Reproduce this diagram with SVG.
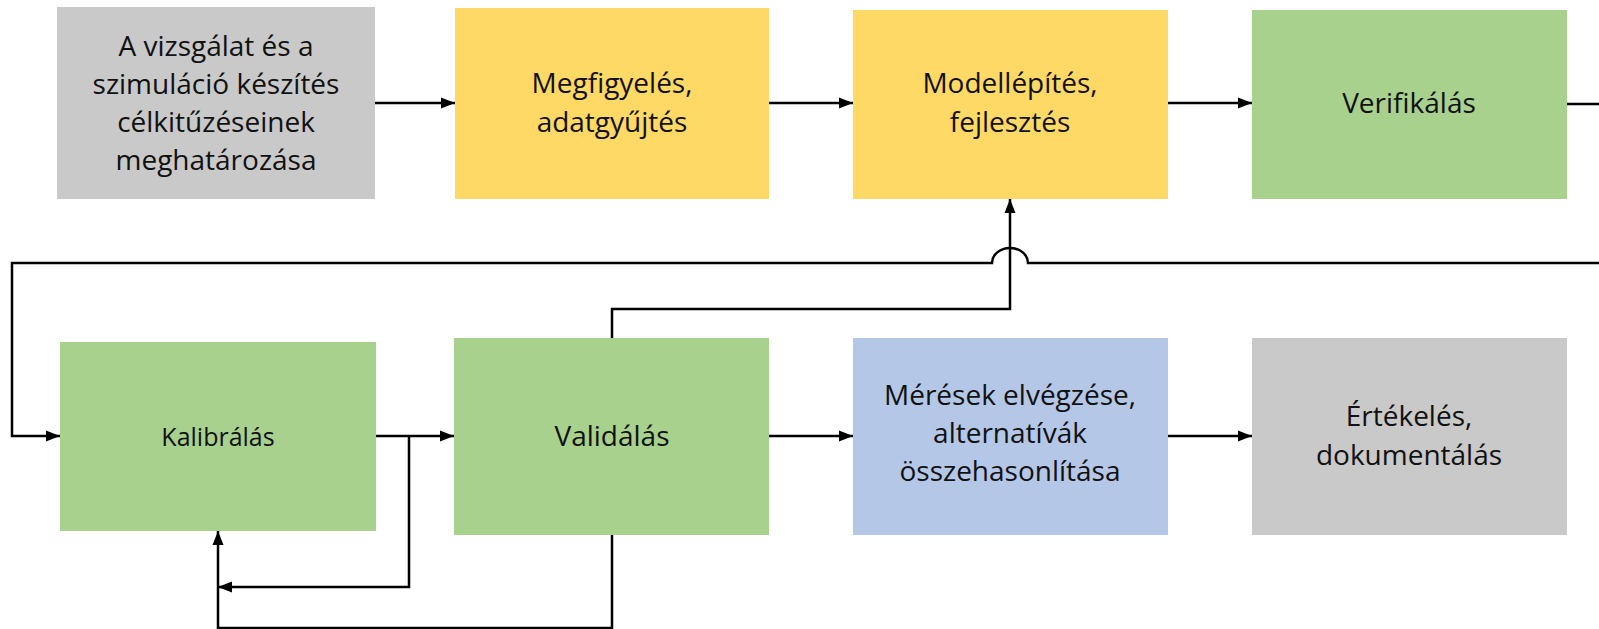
<svg xmlns="http://www.w3.org/2000/svg" width="1599" height="629" viewBox="0 0 1599 629">
<style>
.t{font-family:"Open Sans","Noto Sans","DejaVu Sans",sans-serif;font-size:28px;fill:#111;text-anchor:middle}
.s{font-size:25px}
.gray{fill:#C9C9C9}.yel{fill:#FFD966}.grn{fill:#A9D18E}.blu{fill:#B4C7E7}
.c{fill:none;stroke:#000;stroke-width:2.5}
</style>
<defs>
<marker id="ah" markerUnits="userSpaceOnUse" markerWidth="15" markerHeight="12" refX="14" refY="6" orient="auto">
<path d="M0,0.5 L14,6 L0,11.5 z" fill="#000"/>
</marker>
</defs>
<rect width="1599" height="629" fill="#fff"/>
<g id="n1"><rect class="gray" x="57" y="7" width="318" height="192"/>
<text class="t"><tspan x="216" y="56">A vizsgálat és a</tspan><tspan x="216" y="94">szimuláció készítés</tspan><tspan x="216" y="132">célkitűzéseinek</tspan><tspan x="216" y="170">meghatározása</tspan></text></g>
<g id="n2"><rect class="yel" x="455" y="8" width="314" height="191"/>
<text class="t"><tspan x="612" y="93">Megfigyelés,</tspan><tspan x="612" y="132">adatgyűjtés</tspan></text></g>
<g id="n3"><rect class="yel" x="853" y="10" width="315" height="189"/>
<text class="t"><tspan x="1010" y="93">Modellépítés,</tspan><tspan x="1010" y="132">fejlesztés</tspan></text></g>
<g id="n4"><rect class="grn" x="1252" y="10" width="315" height="189"/>
<text class="t" x="1409" y="113">Verifikálás</text></g>
<g id="n5"><rect class="grn" x="60" y="342" width="316" height="189"/>
<text class="t s" x="218" y="446">Kalibrálás</text></g>
<g id="n6"><rect class="grn" x="454" y="338" width="315" height="197"/>
<text class="t" x="612" y="446">Validálás</text></g>
<g id="n7"><rect class="blu" x="853" y="338" width="315" height="197"/>
<text class="t"><tspan x="1010" y="405">Mérések elvégzése,</tspan><tspan x="1010" y="443">alternatívák</tspan><tspan x="1010" y="481">összehasonlítása</tspan></text></g>
<g id="n8"><rect class="gray" x="1252" y="338" width="315" height="197"/>
<text class="t"><tspan x="1409" y="426">Értékelés,</tspan><tspan x="1409" y="465">dokumentálás</tspan></text></g>
<g id="connectors">
<path class="c" d="M375,103 H455" marker-end="url(#ah)"/>
<path class="c" d="M769,103 H853" marker-end="url(#ah)"/>
<path class="c" d="M1168,103 H1252" marker-end="url(#ah)"/>
<path class="c" d="M1567,104 H1600"/>
<path class="c" d="M1600,263 H1028 A18,15 0 0 0 992,263 H12 V436 H60" marker-end="url(#ah)"/>
<path class="c" d="M612,338 V309 H1010 V199" marker-end="url(#ah)"/>
<path class="c" d="M376,436 H454" marker-end="url(#ah)"/>
<path class="c" d="M769,436 H853" marker-end="url(#ah)"/>
<path class="c" d="M1168,436 H1252" marker-end="url(#ah)"/>
<path class="c" d="M409,436 V587 H218" marker-end="url(#ah)"/>
<path class="c" d="M612,535 V628 H218 V531" marker-end="url(#ah)"/>
</g>
</svg>
